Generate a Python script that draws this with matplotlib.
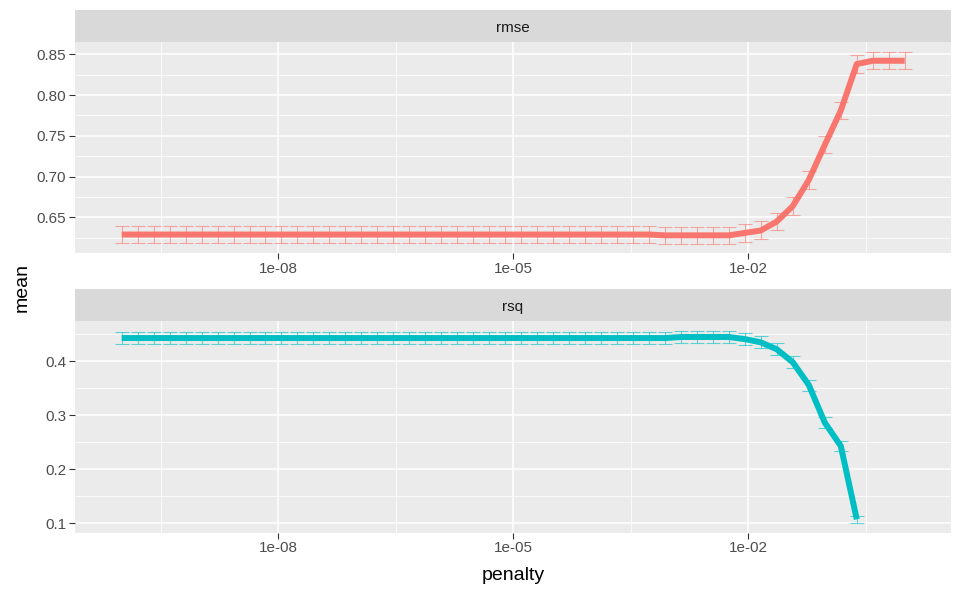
import numpy as np
import matplotlib.pyplot as plt
from matplotlib.ticker import FixedLocator, NullFormatter

plt.rcParams['font.family'] = ['Liberation Sans', 'DejaVu Sans']

# tuning grid: 50 penalty values, regular on log10 scale from 1e-10 to 1
penalty = np.logspace(-10, 0, 50)

rmse_mean = ([0.629] * 34 + [0.628] * 5 +
             [0.631, 0.634, 0.645, 0.664, 0.696, 0.739, 0.781, 0.838,
              0.842, 0.842, 0.842])
rmse_se = ([0.0108] * 39 +
           [0.0110, 0.0110, 0.0110, 0.0115, 0.0108, 0.0104, 0.0104, 0.0110,
            0.0102, 0.0102, 0.0102])

rsq_mean = ([0.4425] * 35 + [0.4444] * 4 +
            [0.4405, 0.4345, 0.4216, 0.3976, 0.3556, 0.286, 0.2429, 0.1074,
             np.nan, np.nan, np.nan])
rsq_se = ([0.0108] * 35 + [0.0110] * 4 +
          [0.0110, 0.0110, 0.0110, 0.0110, 0.0102, 0.0102, 0.0092, 0.0065,
           np.nan, np.nan, np.nan])

panels = [
    ("rmse", rmse_mean, rmse_se, "#F8766D", (0.606, 0.865),
     [0.65, 0.70, 0.75, 0.80, 0.85], ["0.65", "0.70", "0.75", "0.80", "0.85"]),
    ("rsq", rsq_mean, rsq_se, "#00BFC4", (0.0826, 0.474),
     [0.1, 0.2, 0.3, 0.4], ["0.1", "0.2", "0.3", "0.4"]),
]

x_major = [1e-8, 1e-5, 1e-2]
x_labels = ["1e-08", "1e-05", "1e-02"]
x_minor = [10**-9.5, 10**-6.5, 10**-3.5, 10**-0.5]

W, H = 962, 594
fig = plt.figure(figsize=(W / 100, H / 100), dpi=100)

# panel boxes in pixels: (strip top, panel top, panel bottom)
left_px, right_px = 75, 951
boxes = [(10, 42, 253.3), (289, 321, 532.7)]

for (name, mean, se, color, ylim, yticks, ylabels), (s_top, p_top, p_bot) in zip(panels, boxes):
    ax = fig.add_axes([left_px / W, 1 - p_bot / H,
                       (right_px - left_px) / W, (p_bot - p_top) / H])
    ax.set_facecolor("#EBEBEB")
    ax.set_xscale("log")

    mean = np.array(mean, dtype=float)
    se = np.array(se, dtype=float)
    ax.errorbar(penalty, mean, yerr=se, fmt="none", ecolor=color, alpha=0.6,
                elinewidth=0.8, capsize=4.8, capthick=0.8, zorder=2)
    ax.plot(penalty, mean, color=color, linewidth=4.3, solid_capstyle="butt",
            solid_joinstyle="round", zorder=3)

    # ticks and grid
    ax.xaxis.set_major_locator(FixedLocator(x_major))
    ax.xaxis.set_minor_locator(FixedLocator(x_minor))
    ax.set_xticklabels(x_labels)
    ax.xaxis.set_minor_formatter(NullFormatter())
    ax.set_yticks(yticks)
    ax.set_yticklabels(ylabels)
    step = yticks[1] - yticks[0]
    minor = [t - step / 2 for t in yticks] + [yticks[-1] + step / 2]
    minor = [m for m in minor if ylim[0] < m < ylim[1]]
    ax.yaxis.set_minor_locator(FixedLocator(minor))
    ax.set_xlim(10**-10.596, 10**0.591)
    ax.set_ylim(*ylim)
    ax.grid(True, which="major", color="white", linewidth=1.1, zorder=0)
    ax.grid(True, which="minor", color="white", linewidth=0.55, zorder=0)
    ax.set_axisbelow(True)
    for sp in ax.spines.values():
        sp.set_visible(False)
    ax.tick_params(which="major", length=4.3, width=0.8, color="#333333",
                   labelcolor="#4D4D4D", labelsize=11, pad=2)
    ax.tick_params(which="minor", length=0)

    # facet strip
    sax = fig.add_axes([left_px / W, 1 - p_top / H,
                        (right_px - left_px) / W, (p_top - s_top) / H])
    sax.set_facecolor("#D9D9D9")
    sax.set_xticks([])
    sax.set_yticks([])
    for sp in sax.spines.values():
        sp.set_visible(False)
    sax.text(0.5, 0.45, name, ha="center", va="center", fontsize=11,
             color="#1A1A1A", transform=sax.transAxes)

fig.text(22 / W, 1 - 288 / H, "mean", rotation=90, ha="center", va="center",
         fontsize=14)
fig.text(513 / W, 1 - 575 / H, "penalty", ha="center", va="center", fontsize=14)

fig.savefig("out.png", dpi=100, facecolor="white")
